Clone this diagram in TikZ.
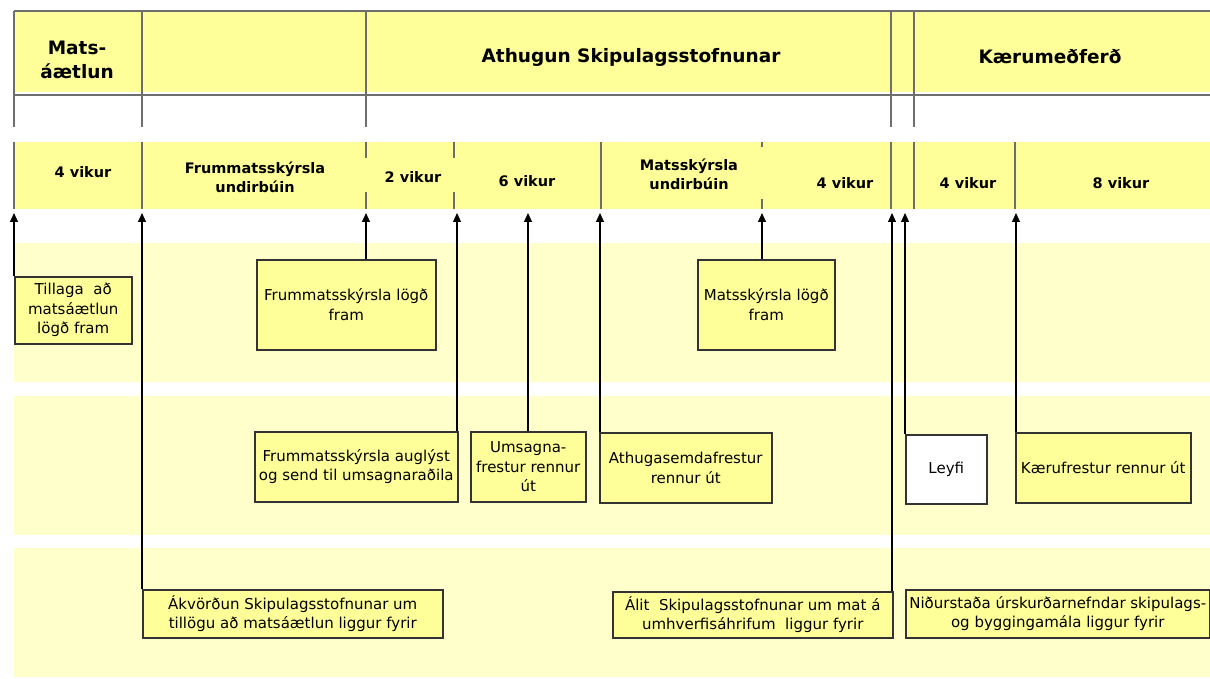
\documentclass[tikz,border=0pt]{standalone}
\usepackage{fontspec}
\setmainfont{DejaVu Sans}
\usetikzlibrary{arrows.meta}
\definecolor{hdryellow}{HTML}{FFFF99}
\definecolor{paleyellow}{HTML}{FFFFCC}
\definecolor{rulegray}{HTML}{6E6E6E}

\begin{document}
\begin{tikzpicture}[
    x=1pt, y=-1pt,
    rule/.style={draw=rulegray, line width=2pt},
    headtxt/.style={font=\fontsize{18.5}{24}\selectfont\bfseries, align=center},
    spantxt/.style={font=\fontsize{14.5}{19}\selectfont\bfseries, align=center},
    evbox/.style={draw=black!80, line width=1.5pt, fill=hdryellow, align=center, inner sep=2pt, anchor=north west, font=\fontsize{15}{19.5}\selectfont},
    link/.style={-{Triangle[length=9pt,width=8pt]}, line width=1.1pt}
]
\useasboundingbox (0,0) rectangle (1210,679);

% Header
\fill[hdryellow] (14,12) rectangle (1210,92);
\draw[rule] (14,11) -- (1210,11);
\draw[rule] (14,95) -- (1210,95);
\foreach \x in {14,142,366,891,914}
    \draw[rule] (\x,11) -- (\x,127);
\node[headtxt] (hmat) at (77,60) {Mats-\\áætlun};
\node[headtxt] (hath) at (631,57) {Athugun Skipulagsstofnunar};
\node[headtxt] (hkae) at (1050,57) {Kærumeðferð};

% Time spans
\fill[hdryellow] (14,142) rectangle (1210,209);
\foreach \x in {14,142,601,891,914,1015}
    \draw[rule] (\x,142) -- (\x,209);
\foreach \x in {366,454} {
    \draw[rule] (\x,142) -- (\x,158);
    \draw[rule] (\x,192) -- (\x,209);
}
\draw[rule] (762,142) -- (762,147);
\draw[rule] (762,199) -- (762,209);
\node[spantxt] (s1) at (83,172) {4 vikur};
\node[spantxt] (s2) at (255,177) {Frummatsskýrsla\\undirbúin};
\node[spantxt] (s3) at (413,177) {2 vikur};
\node[spantxt] (s4) at (527,181) {6 vikur};
\node[spantxt] (s5) at (689,174) {Matsskýrsla\\undirbúin};
\node[spantxt] (s6) at (845,183) {4 vikur};
\node[spantxt] (s7) at (968,183) {4 vikur};
\node[spantxt] (s8) at (1121,183) {8 vikur};

% Rows
\fill[paleyellow] (14,243) rectangle (1210,382);
\fill[paleyellow] (14,396) rectangle (1210,535);
\fill[paleyellow] (14,548) rectangle (1210,677);

% Time marks
\foreach \n/\x in {ta/14, tb/142, tc/366, td/457, te/528, tf/600, tg/762, th/892, ti/905, tj/1016}
    \coordinate (\n) at (\x,213);

% Events
\node[evbox, minimum width=117pt, minimum height=67pt] (tillaga) at (14,276) {Tillaga\ \ að\\matsáætlun\\lögð fram};
\node[evbox, minimum width=179pt, minimum height=90pt] (frumlogd) at (256,259) {Frummatsskýrsla lögð\\fram};
\node[evbox, minimum width=137pt, minimum height=90pt] (matslogd) at (697,259) {Matsskýrsla lögð\\fram};
\node[evbox, minimum width=203pt, minimum height=70pt] (frumaugl) at (254,431) {Frummatsskýrsla auglýst\\og send til umsagnaraðila};
\node[evbox, minimum width=115pt, minimum height=70pt] (umsagna) at (470,431) {Umsagna-\\frestur rennur\\út};
\node[evbox, minimum width=172pt, minimum height=70pt] (athugas) at (599,432) {Athugasemdafrestur\\rennur út};
\node[evbox, fill=white, minimum width=81pt, minimum height=69pt] (leyfi) at (905,434) {Leyfi};
\node[evbox, minimum width=175pt, minimum height=70pt] (kaeru) at (1015,432) {Kærufrestur rennur út};
\node[evbox, minimum width=300pt, minimum height=48pt] (akvordun) at (142,589) {Ákvörðun Skipulagsstofnunar um\\tillögu að matsáætlun liggur fyrir};
\node[evbox, minimum width=280pt, minimum height=46pt] (alit) at (612,591) {Álit\ \ Skipulagsstofnunar um mat á\\umhverfisáhrifum\ \ liggur fyrir};
\node[evbox, minimum width=304pt, minimum height=48pt] (nidurst) at (905,589) {Niðurstaða úrskurðarnefndar skipulags-\\og byggingamála liggur fyrir};

% Arrows
\draw[link] (ta |- tillaga.north) -- (ta);
\draw[link] (tb |- akvordun.north) -- (tb);
\draw[link] (tc |- frumlogd.north) -- (tc);
\draw[link] (td |- frumaugl.north) -- (td);
\draw[link] (te |- umsagna.north) -- (te);
\draw[link] (tf |- athugas.north) -- (tf);
\draw[link] (tg |- matslogd.north) -- (tg);
\draw[link] (th |- alit.north) -- (th);
\draw[link] (ti |- leyfi.north) -- (ti);
\draw[link] (tj |- kaeru.north) -- (tj);
\end{tikzpicture}
\end{document}
